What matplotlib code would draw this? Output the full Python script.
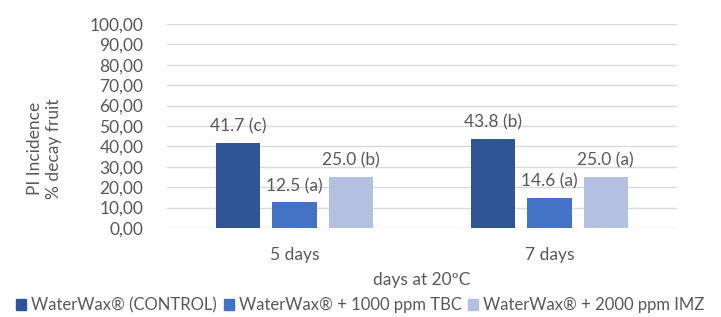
import numpy as np
import matplotlib
matplotlib.use('Agg')
import matplotlib.pyplot as plt
from matplotlib.patches import Patch

# Данные графика
categories = ['5 days', '7 days']
series_names = ['WaterWax® (CONTROL)', 'WaterWax® + 1000 ppm TBC', 'WaterWax® + 2000 ppm IMZ']
values = [
    [41.7, 43.8],
    [12.5, 14.6],
    [25.0, 25.0],
]
letters = [
    ['c', 'b'],
    ['a', 'a'],
    ['b', 'a'],
]
colors = ['#2F5597', '#4472C4', '#B4C0E0']
text_color = '#595959'

plt.rcParams['font.family'] = ['Lato', 'DejaVu Sans']

fig = plt.figure(figsize=(7.21, 3.17), dpi=100)
ax = fig.add_axes([0.2316, 0.281, 0.7074, 0.643])

x = np.arange(len(categories))
width = 0.173
step = 0.22
for i, (vals, col) in enumerate(zip(values, colors)):
    pos = x + (i - 1) * step
    bars = ax.bar(pos, vals, width=width, color=col, zorder=3)
    for b, v, l in zip(bars, vals, letters[i]):
        ax.annotate(f'{v:.1f} ({l})', (b.get_x() + b.get_width() / 2, v),
                    xytext=(0, 6), textcoords='offset points',
                    ha='center', va='bottom', fontsize=12.5, color=text_color)

ax.set_xlim(-0.5, 1.5)
ax.set_ylim(0, 100)
ax.set_yticks(np.arange(0, 101, 10))
ax.set_yticklabels([f'{t:.2f}'.replace('.', ',') for t in np.arange(0, 101, 10)])
ax.set_xticks(x)
ax.set_xticklabels(categories)
ax.tick_params(length=0, labelsize=12.5, labelcolor=text_color)
ax.tick_params(axis='x', pad=14)
ax.tick_params(axis='y', pad=17)
ax.grid(axis='y', color='#D9D9D9', linewidth=1, zorder=0)
for s in ax.spines.values():
    s.set_visible(False)

ax.set_xlabel('days at 20ºC', fontsize=12.5, color=text_color, labelpad=6)
ax.set_ylabel('PI Incidence\n% decay fruit', fontsize=12.5, color=text_color,
              va='center', ha='center')
ax.yaxis.set_label_coords(-0.24, 0.39)

handles = [Patch(color=c) for c in colors]
fig.legend(handles, series_names, loc='lower center', ncol=3, frameon=False,
           bbox_to_anchor=(0.5, -0.035), fontsize=12, labelcolor=text_color,
           handlelength=0.6, handleheight=0.6, handletextpad=0.3, columnspacing=0.4)

fig.savefig('out.png', dpi=100)
